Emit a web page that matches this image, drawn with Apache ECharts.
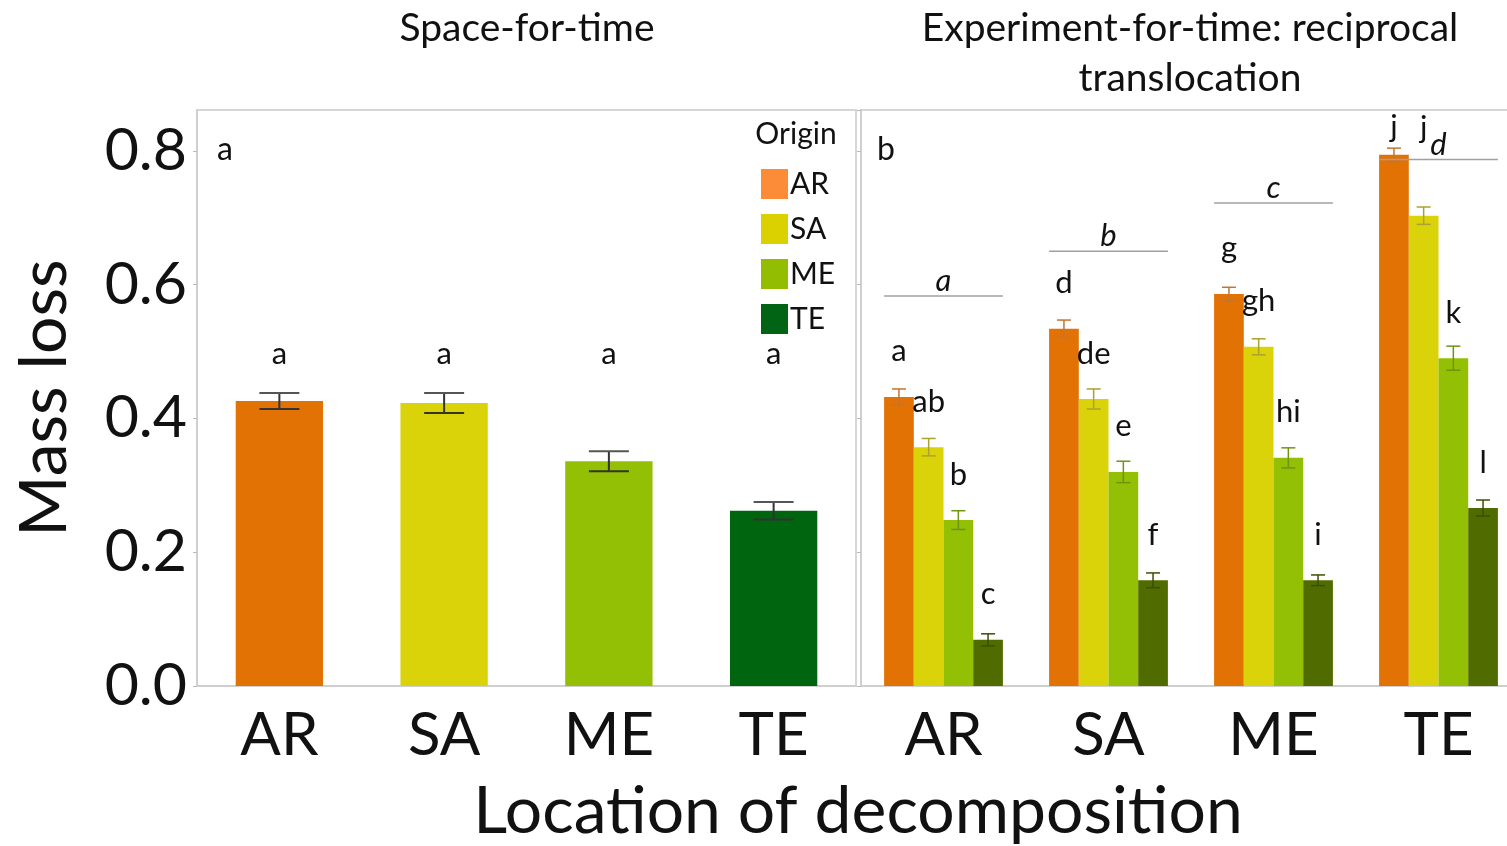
<!DOCTYPE html>
<html><head><meta charset="utf-8">
<script src="https://cdn.jsdelivr.net/npm/echarts@6/dist/echarts.min.js"></script>
<style>html,body{margin:0;padding:0;background:#fff}#c{width:1507px;height:846px}</style>
</head><body><div id="c"></div>
<script>
// ---------- data ----------
const categories = ['AR', 'SA', 'ME', 'TE'];
const origins = ['AR', 'SA', 'ME', 'TE'];
const yTicks = [0.0, 0.2, 0.4, 0.6, 0.8];

// Panel a: space-for-time
const spaceMean = [0.426, 0.423, 0.336, 0.262];
const spaceErr = [0.012, 0.015, 0.015, 0.013];
const spaceLetters = ['a', 'a', 'a', 'a'];

// Panel b: reciprocal translocation, one array per origin (by location)
const expAR = [0.432, 0.534, 0.586, 0.794];
const expSA = [0.357, 0.429, 0.507, 0.703];
const expME = [0.248, 0.320, 0.341, 0.490];
const expTE = [0.069, 0.158, 0.158, 0.266];
const errAR = [0.012, 0.013, 0.010, 0.010];
const errSA = [0.013, 0.015, 0.012, 0.013];
const errME = [0.014, 0.016, 0.015, 0.018];
const errTE = [0.009, 0.011, 0.008, 0.012];
const lettersAR = ['a', 'd', 'g', 'j'];
const lettersSA = ['ab', 'de', 'gh', 'j'];
const lettersME = ['b', 'e', 'hi', 'k'];
const lettersTE = ['c', 'f', 'i', 'l'];
const groupLetters = ['a', 'b', 'c', 'd'];
const groupLineLevel = [0.583, 0.650, 0.722, 0.787];

// ---------- styles ----------
const FONT = 'Lato, "Open Sans", sans-serif';
const spaceColors = ['#E37204', '#DAD30A', '#93BF04', '#00650F'];
const expColors = ['#E37204', '#DAD30A', '#93BF04', '#506B00'];
const expErrColors = ['#C4742E', '#A9A232', '#6F9412', '#3A4F00'];
const legendColors = ['#FC8C38', '#DBD000', '#92BD00', '#006414'];
const LETTER_A_LEVEL = 0.497;
const B_GAP = 0.28;
const labelDistance = 30;
const labelDistanceOverride = { '0-3': 12, '1-3': 72 };

const expMeans = [expAR, expSA, expME, expTE];
const expErrs = [errAR, errSA, errME, errTE];
const expLetters = [lettersAR, lettersSA, lettersME, lettersTE];

const chart = echarts.init(document.getElementById('c'), null, { renderer: 'canvas' });

function tickFmt(v) {
  return yTicks.some(t => Math.abs(t - v) < 1e-6) ? v.toFixed(1) : '';
}

const yAxisCommon = {
  type: 'value', min: 0, max: 0.861, interval: 0.2,
  splitLine: { show: false },
  axisLine: { show: true, lineStyle: { color: '#cfcfcf', width: 2 } },
  axisTick: { show: true, length: 4, lineStyle: { color: '#bbb' } }
};
const xAxisCommon = {
  type: 'category', data: categories,
  axisTick: { show: false },
  axisLine: { show: true, lineStyle: { color: '#cfcfcf', width: 2 } },
  axisLabel: { fontFamily: FONT, fontSize: 60, color: '#111', margin: 20 }
};

const series = [];

// Panel a bars
series.push({
  type: 'bar', xAxisIndex: 0, yAxisIndex: 0, barCategoryGap: '47%',
  data: spaceMean.map((v, i) => ({ value: v, itemStyle: { color: spaceColors[i] } })),
  silent: true
});
// Panel a error bars
series.push({
  type: 'custom', xAxisIndex: 0, yAxisIndex: 0, silent: true, z: 5,
  data: spaceMean.map((v, i) => [i, v, spaceErr[i]]),
  renderItem: function (params, api) {
    const i = api.value(0), v = api.value(1), e = api.value(2);
    const hi = api.coord([i, v + e]), lo = api.coord([i, v - e]);
    const cw = 20;
    const st = { stroke: '#333', lineWidth: 2 };
    return { type: 'group', children: [
      { type: 'line', shape: { x1: hi[0], y1: hi[1], x2: lo[0], y2: lo[1] }, style: st },
      { type: 'line', shape: { x1: hi[0] - cw, y1: hi[1], x2: hi[0] + cw, y2: hi[1] }, style: { stroke: '#555', lineWidth: 2 } },
      { type: 'line', shape: { x1: lo[0] - cw, y1: lo[1], x2: lo[0] + cw, y2: lo[1] }, style: st }
    ]};
  }
});
// Panel a letters
series.push({
  type: 'custom', xAxisIndex: 0, yAxisIndex: 0, silent: true, z: 6,
  data: spaceLetters.map((l, i) => [i, LETTER_A_LEVEL]),
  renderItem: function (params, api) {
    const p = api.coord([api.value(0), api.value(1)]);
    return { type: 'text', x: p[0], y: p[1], style: {
      text: spaceLetters[params.dataIndex], fontFamily: FONT, fontSize: 31, fill: '#111',
      align: 'center', verticalAlign: 'middle' } };
  }
});

// Panel b bars
origins.forEach((o, s) => {
  series.push({
    name: o, type: 'bar', xAxisIndex: 1, yAxisIndex: 1,
    barGap: '0%', barCategoryGap: (B_GAP * 100) + '%',
    itemStyle: { color: expColors[s] },
    data: expMeans[s].map((v, i) => {
      const key = s + '-' + i;
      return { value: v, label: { distance: labelDistanceOverride[key] !== undefined ? labelDistanceOverride[key] : labelDistance } };
    }),
    label: {
      show: true, position: 'top', fontFamily: FONT, fontSize: 31, color: '#111',
      formatter: p => expLetters[s][p.dataIndex]
    },
    silent: true
  });
});
// Panel b error bars
origins.forEach((o, s) => {
  series.push({
    type: 'custom', xAxisIndex: 1, yAxisIndex: 1, silent: true, z: 5,
    data: expMeans[s].map((v, i) => [i, v, expErrs[s][i]]),
    renderItem: function (params, api) {
      const i = api.value(0), v = api.value(1), e = api.value(2);
      const catW = api.size([1, 0])[0];
      const bw = catW * (1 - B_GAP) / 4;
      const dx = (s - 1.5) * bw;
      const hi = api.coord([i, v + e]), lo = api.coord([i, v - e]);
      const x = hi[0] + dx, cw = 7;
      const st = { stroke: expErrColors[s], lineWidth: 1.5 };
      return { type: 'group', children: [
        { type: 'line', shape: { x1: x, y1: hi[1], x2: x, y2: lo[1] }, style: st },
        { type: 'line', shape: { x1: x - cw, y1: hi[1], x2: x + cw, y2: hi[1] }, style: st },
        { type: 'line', shape: { x1: x - cw, y1: lo[1], x2: x + cw, y2: lo[1] }, style: st }
      ]};
    }
  });
});
// Panel b group lines with italic letters
series.push({
  type: 'custom', xAxisIndex: 1, yAxisIndex: 1, silent: true, z: 6,
  data: groupLineLevel.map((v, i) => [i, v]),
  renderItem: function (params, api) {
    const p = api.coord([api.value(0), api.value(1)]);
    const catW = api.size([1, 0])[0];
    const hw = catW * (1 - B_GAP) / 2;
    return { type: 'group', children: [
      { type: 'line', shape: { x1: p[0] - hw, y1: p[1], x2: p[0] + hw, y2: p[1] }, style: { stroke: '#a0a0a0', lineWidth: 1.5 } },
      { type: 'text', x: p[0], y: p[1] - 15, style: { text: groupLetters[params.dataIndex], fontFamily: FONT,
        fontStyle: 'italic', fontSize: 31, fill: '#111', align: 'center', verticalAlign: 'middle' } }
    ]};
  }
});

const option = {
  backgroundColor: '#fff',
  animation: false,
  grid: [
    { left: 197, top: 110, width: 659, bottom: 160, show: true, borderColor: '#d6d6d2', borderWidth: 2, outerBoundsMode: 'none', containLabel: false },
    { left: 861, top: 110, width: 660, bottom: 160, show: true, borderColor: '#d6d6d2', borderWidth: 2, outerBoundsMode: 'none', containLabel: false }
  ],
  xAxis: [
    Object.assign({ gridIndex: 0 }, xAxisCommon),
    Object.assign({ gridIndex: 1 }, xAxisCommon)
  ],
  yAxis: [
    Object.assign({ gridIndex: 0, axisLabel: { show: true, formatter: tickFmt, showMaxLabel: false,
      fontFamily: FONT, fontSize: 59, color: '#111', margin: 10 } }, yAxisCommon),
    Object.assign({ gridIndex: 1, axisLabel: { show: false } }, yAxisCommon)
  ],
  legend: {
    orient: 'vertical', left: 756, top: 164, itemWidth: 27, itemHeight: 30, itemGap: 15,
    icon: 'rect', selectedMode: false,
    textStyle: { fontFamily: FONT, fontSize: 30, lineHeight: 30, color: '#111', padding: [0, 0, 0, -3] },
    data: origins.map((o, i) => ({ name: o, itemStyle: { color: legendColors[i] } }))
  },
  graphic: [
    { type: 'text', x: 527, y: 28, style: { text: 'Space-for-time', fontFamily: FONT, fontSize: 39, fill: '#111', align: 'center', verticalAlign: 'middle' } },
    { type: 'text', x: 1190, y: 28, style: { text: 'Experiment-for-time: reciprocal', fontFamily: FONT, fontSize: 39, fill: '#111', align: 'center', verticalAlign: 'middle' } },
    { type: 'text', x: 1190, y: 78, style: { text: 'translocation', fontFamily: FONT, fontSize: 39, fill: '#111', align: 'center', verticalAlign: 'middle' } },
    { type: 'text', x: 796, y: 134, style: { text: 'Origin', fontFamily: FONT, fontSize: 30, fill: '#111', align: 'center', verticalAlign: 'middle' } },
    { type: 'text', x: 225, y: 150, style: { text: 'a', fontFamily: FONT, fontSize: 32, fill: '#111', align: 'center', verticalAlign: 'middle' } },
    { type: 'text', x: 886, y: 150, style: { text: 'b', fontFamily: FONT, fontSize: 32, fill: '#111', align: 'center', verticalAlign: 'middle' } },
    { type: 'text', x: 45, y: 398, rotation: Math.PI / 2, style: { text: 'Mass loss', fontFamily: FONT, fontSize: 66, fill: '#111', align: 'center', verticalAlign: 'middle' } },
    { type: 'text', x: 858, y: 812, style: { text: 'Location of decomposition', fontFamily: FONT, fontSize: 66, fill: '#111', align: 'center', verticalAlign: 'middle' } }
  ],
  series: series
};
chart.setOption(option);
</script>
</body></html>
